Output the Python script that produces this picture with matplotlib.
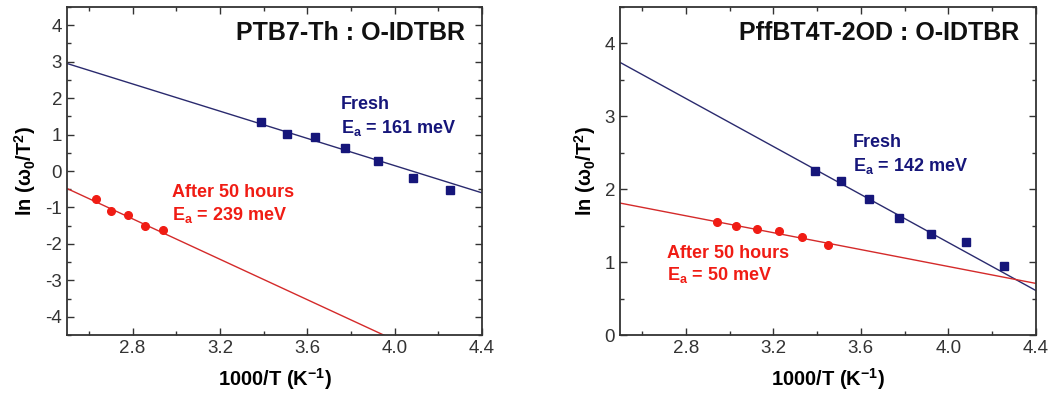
#!/usr/bin/env python3

import numpy as np
import matplotlib
matplotlib.use("Agg")
import matplotlib.pyplot as plt
from matplotlib.ticker import MultipleLocator, FormatStrFormatter

plt.rcParams['font.family'] = ['Liberation Sans', 'DejaVu Sans']
plt.rcParams['mathtext.fontset'] = 'custom'
plt.rcParams['mathtext.rm'] = 'Liberation Sans:bold'
plt.rcParams['mathtext.it'] = 'Liberation Sans:bold'
plt.rcParams['mathtext.bf'] = 'Liberation Sans:bold'
plt.rcParams['axes.unicode_minus'] = False

KB = 8.617e-5  # eV/K

# PTB7-Th : O-IDTBR
ptb_fresh_x = [3.390, 3.509, 3.636, 3.774, 3.922, 4.082, 4.255]
ptb_fresh_y = [1.34, 1.01, 0.92, 0.62, 0.28, -0.18, -0.51]
ptb_aged_x = [2.632, 2.703, 2.778, 2.857, 2.941]
ptb_aged_y = [-0.77, -1.11, -1.20, -1.52, -1.63]
ptb_fresh_ea = 161  # meV
ptb_aged_ea = 239
ptb_fresh_y0 = 2.95  # fit value at 1000/T = 2.5
ptb_aged_y0 = -0.48

# PffBT4T-2OD : O-IDTBR
pff_fresh_x = [3.390, 3.509, 3.636, 3.774, 3.922, 4.082, 4.255]
pff_fresh_y = [2.25, 2.11, 1.86, 1.61, 1.38, 1.27, 0.95]
pff_aged_x = [2.941, 3.030, 3.125, 3.226, 3.333, 3.448]
pff_aged_y = [1.55, 1.50, 1.45, 1.42, 1.35, 1.24]
pff_fresh_ea = 142
pff_aged_ea = 50
pff_fresh_y0 = 3.74
pff_aged_y0 = 1.81

NAVY = "#16167a"
NAVY_LINE = "#2a2a6e"
RED = "#f01c14"
RED_LINE = "#d42a2a"
X0 = 2.5


def arrhenius(ea, y0):
    xs = np.array([X0, 4.4])
    slope = -ea / 1000.0 / KB / 1000.0
    return xs, y0 + slope * (xs - X0)


def panel(ax, title, fx, fy, fea, fy0, ax_, ay, aea, ay0, ylim,
          fresh_pos, aged_pos):
    xs, ys = arrhenius(fea, fy0)
    ax.plot(xs, ys, color=NAVY_LINE, lw=1.0)
    xs, ys = arrhenius(aea, ay0)
    ax.plot(xs, ys, color=RED_LINE, lw=1.0)
    ax.plot(fx, fy, 's', color=NAVY, ms=5.5, mec=NAVY)
    ax.plot(ax_, ay, 'o', color=RED, ms=5.5, mec=RED)

    ax.set_xlim(2.5, 4.4)
    ax.set_ylim(*ylim)
    ax.xaxis.set_major_locator(MultipleLocator(0.4))
    ax.xaxis.set_minor_locator(MultipleLocator(0.2))
    ax.xaxis.set_major_formatter(FormatStrFormatter('%.1f'))
    ax.yaxis.set_major_locator(MultipleLocator(1))
    ax.yaxis.set_minor_locator(MultipleLocator(0.5))
    ax.tick_params(which='both', direction='in', top=True, right=True,
                   labelsize=13.5, labelcolor='#333333', color='#333333')
    ax.tick_params(which='major', length=5, width=1)
    ax.tick_params(which='minor', length=3, width=1)
    for s in ax.spines.values():
        s.set_linewidth(1.3)
        s.set_color('#333333')

    ax.text(0.96, 0.92, title, transform=ax.transAxes, ha='right',
            va='center', fontsize=18, fontweight='bold', color='#111111')

    ax.text(fresh_pos[0], fresh_pos[1], "Fresh", transform=ax.transAxes,
            color=NAVY, fontsize=13, fontweight='bold', va='center')
    ax.text(fresh_pos[0], fresh_pos[1] - 0.072,
            "E$_{a}$ = %d meV" % fea, transform=ax.transAxes,
            color=NAVY, fontsize=13, fontweight='bold', va='center')
    ax.text(aged_pos[0], aged_pos[1], "After 50 hours", transform=ax.transAxes,
            color=RED, fontsize=13, fontweight='bold', va='center')
    ax.text(aged_pos[0], aged_pos[1] - 0.068,
            "E$_{a}$ = %d meV" % aea, transform=ax.transAxes,
            color=RED, fontsize=13, fontweight='bold', va='center')

    ax.set_xlabel("1000/T (K$^{-1}$)", fontsize=14.5, fontweight='bold',
                  labelpad=7)
    ax.set_ylabel("ln (ω$_0$/T$^2$)", fontsize=14.5, fontweight='bold',
                  labelpad=5)


fig = plt.figure(figsize=(10.52, 4.0), dpi=100)
ax1 = fig.add_axes([0.0637, 0.1625, 0.3945, 0.82])
ax2 = fig.add_axes([0.5894, 0.1625, 0.3954, 0.82])

panel(ax1, "PTB7-Th : O-IDTBR",
      ptb_fresh_x, ptb_fresh_y, ptb_fresh_ea, ptb_fresh_y0,
      ptb_aged_x, ptb_aged_y, ptb_aged_ea, ptb_aged_y0,
      (-4.5, 4.5), (0.66, 0.704), (0.253, 0.433))
panel(ax2, "PffBT4T-2OD : O-IDTBR",
      pff_fresh_x, pff_fresh_y, pff_fresh_ea, pff_fresh_y0,
      pff_aged_x, pff_aged_y, pff_aged_ea, pff_aged_y0,
      (0, 4.5), (0.56, 0.588), (0.113, 0.25))

fig.savefig("out.png", dpi=100)
